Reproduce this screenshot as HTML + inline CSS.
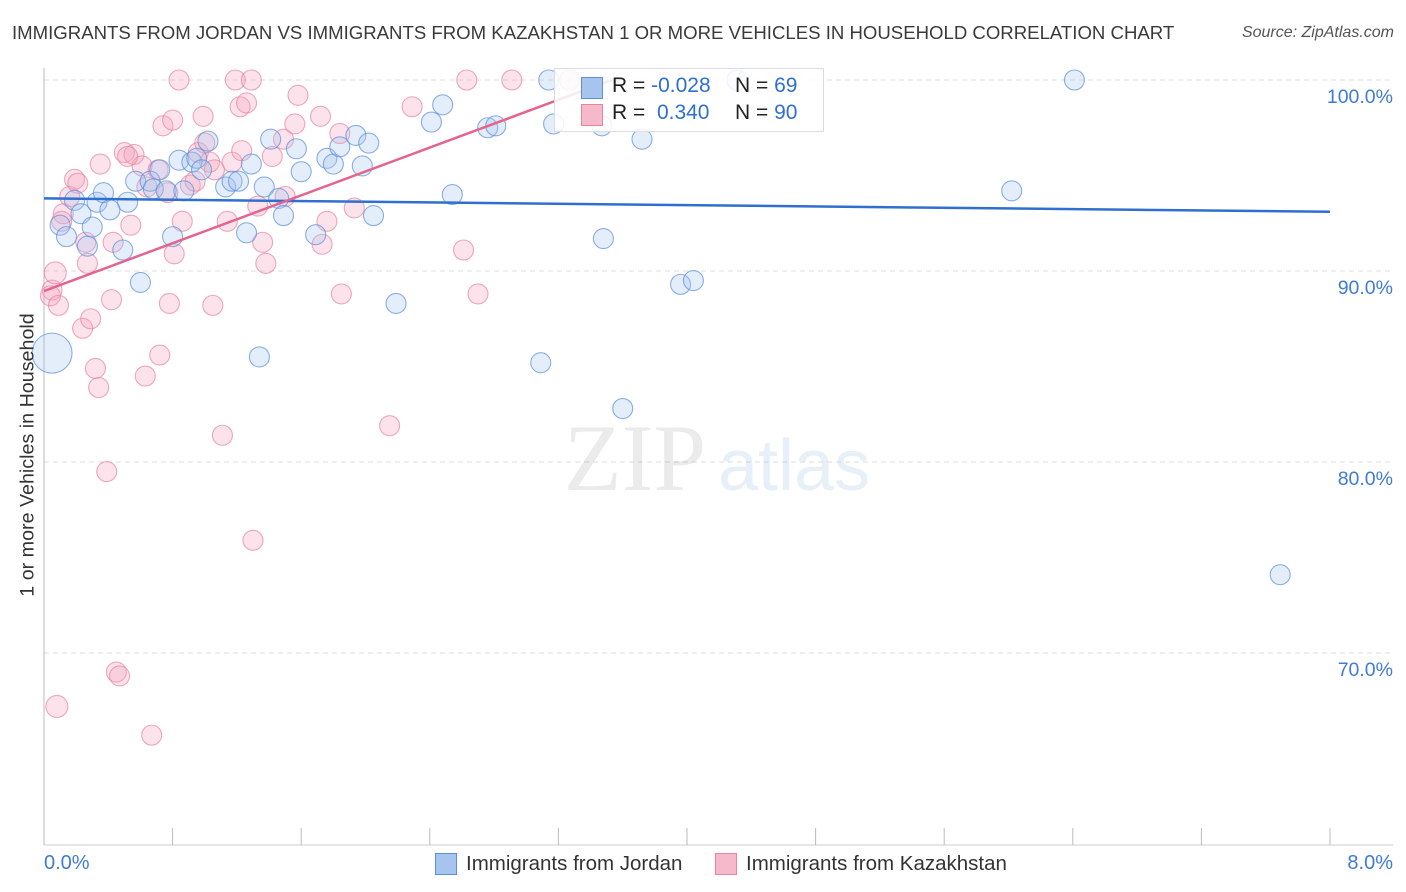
<!DOCTYPE html>
<html><head><meta charset="utf-8"><style>
body{margin:0;background:#fff;font-family:"Liberation Sans",sans-serif;}
#wrap{position:relative;width:1406px;height:892px;overflow:hidden;}
.t{position:absolute;white-space:nowrap;}
</style></head><body>
<div id="wrap">
<div class="t" style="left:12px;top:22px;font-size:18.6px;color:#3a3a3a;">IMMIGRANTS FROM JORDAN VS IMMIGRANTS FROM KAZAKHSTAN 1 OR MORE VEHICLES IN HOUSEHOLD CORRELATION CHART</div>
<div class="t" style="right:12px;top:24px;font-size:16px;color:#555;font-style:italic;">Source: ZipAtlas.com</div>
<svg id="plot" width="1406" height="892" style="position:absolute;left:0;top:0"></svg>
</div>
<script>
const xTicksPct=[0,1,2,3,4,5,6,7,8];
const yTicks=[100,90,80,70];
const blueX=[0.05,0.10,0.14,0.19,0.23,0.27,0.30,0.33,0.37,0.41,0.49,0.52,0.57,0.60,0.66,0.68,0.72,0.76,0.80,0.87,0.84,0.92,0.95,0.98,1.02,1.13,1.17,1.21,1.26,1.29,1.34,1.37,1.41,1.46,1.49,1.57,1.60,1.69,1.76,1.80,1.84,1.94,1.98,2.02,2.05,2.19,2.41,2.48,2.54,2.76,2.81,3.09,3.14,3.17,3.47,3.48,3.60,3.72,3.96,4.04,4.31,6.02,6.41,7.69];
const blueY=[85.7,92.4,91.8,93.7,93.0,91.3,92.3,93.6,94.1,93.2,91.1,93.6,94.7,89.4,94.7,94.3,95.3,94.2,91.8,94.2,95.8,95.7,95.9,95.3,96.8,94.4,94.7,94.7,92.0,95.6,85.5,94.4,96.9,93.8,92.9,96.4,95.2,91.9,95.9,95.6,96.5,97.1,95.5,96.7,92.9,88.3,97.8,98.7,94.0,97.5,97.6,85.2,100,97.7,97.6,91.7,82.8,96.9,89.3,89.5,100,94.2,100,74.1];
const pinkX=[0.05,0.04,0.07,0.08,0.09,0.12,0.11,0.16,0.19,0.21,0.24,0.26,0.27,0.29,0.32,0.34,0.35,0.39,0.42,0.43,0.45,0.47,0.50,0.54,0.56,0.61,0.63,0.64,0.67,0.71,0.72,0.74,0.77,0.78,0.80,0.81,0.84,0.86,0.91,0.96,0.99,1.00,1.03,1.05,1.11,1.14,1.17,1.19,1.22,1.23,1.26,1.29,1.30,1.33,1.36,1.38,1.42,1.49,1.50,1.56,1.58,1.72,1.73,1.76,1.85,1.84,1.93,2.15,2.29,2.61,2.63,2.70,2.91,3.27,0.52,1.06,0.94];
const pinkY=[89.0,88.7,89.9,67.2,88.2,93.0,92.6,93.9,94.8,94.6,87.0,91.5,90.4,87.5,84.9,83.9,95.6,79.5,88.5,91.5,69.0,68.8,96.2,92.4,96.1,95.5,84.5,94.4,65.7,95.3,85.6,97.6,94.1,88.3,97.9,90.9,100,92.6,94.5,96.2,98.1,96.7,95.7,88.2,81.4,92.6,95.7,100,98.6,96.3,98.8,100,75.9,93.4,91.5,90.4,96.0,96.9,93.9,97.7,99.2,98.1,91.4,92.6,88.8,97.2,93.3,81.9,98.6,91.1,100,88.8,100,100,96.0,95.3,94.7];
const blueTrend=[93.8,93.1];
const pinkTrend=[88.95,3.13];
const NS="http://www.w3.org/2000/svg";
const svg=document.getElementById('plot');
const X=v=>44+v*160.75;
const Y=v=>80+(100-v)*19.1;
function mk(tag,at){const e=document.createElementNS(NS,tag);for(const k in at)e.setAttribute(k,at[k]);svg.appendChild(e);return e;}
yTicks.forEach(t=>{
 const g=mk('line',{x1:44,x2:1393,y1:Y(t),y2:Y(t),stroke:'#ddd','stroke-dasharray':'5,4'});
 
 
 const tx=mk('text',{x:1393,y:Y(t)+23,'text-anchor':'end','font-size':19.5,fill:'#3f7bd8'});
 tx.textContent=t.toFixed(1)+'%';
 
 
});
const ax=mk('line',{x1:44,x2:44,y1:68,y2:845,stroke:'#bbb'});


const bx=mk('line',{x1:44,x2:1393,y1:845,y2:845,stroke:'#ccc'});


for(let i=0;i<=10;i++){const x=44+i*128.6;const tk=mk('line',{x1:x,x2:x,y1:828,y2:845,stroke:'#bbb'});
 
 }
const wm=mk('text',{x:635,y:490,'text-anchor':'middle','font-size':95,fill:'#000','fill-opacity':0.08,'font-family':'Liberation Serif'});
wm.textContent='ZIP';


const wm2=mk('text',{x:718,y:490,'font-size':72,fill:'#7aa6e0','fill-opacity':0.18});
wm2.textContent='atlas';


function dots(xs,ys,fill,stroke,name){xs.forEach((v,i)=>{
 let r=10;if(name==='blue-point'&&i===0)r=20;if(name==='pink-point'&&(i===2||i===3))r=11;
 const c=mk('circle',{cx:X(v),cy:Y(ys[i]),r:r,fill:fill,'fill-opacity':0.3,stroke:stroke,'stroke-opacity':0.7,'stroke-width':1.1});
 
 });}
dots(pinkX,pinkY,'#f4a3bd','#e8849f','pink-point');
dots(blueX,blueY,'#a7c4ef','#5b8fdc','blue-point');
const bl=mk('line',{x1:X(0),y1:Y(blueTrend[0]),x2:X(8),y2:Y(blueTrend[1]),stroke:'#2f6fd0','stroke-width':2.5});


const xe=(100-pinkTrend[0])/pinkTrend[1];
const pl=mk('line',{x1:X(0),y1:Y(pinkTrend[0]),x2:X(xe),y2:Y(100),stroke:'#e4648e','stroke-width':2.5});


</script>
<div class="t" style="left:28px;top:455px;font-size:19.7px;color:#333;transform:translate(-50%,-50%) rotate(-90deg);">1 or more Vehicles in Household</div>
<div class="t" style="left:44px;top:852px;font-size:20px;color:#3f7bd8;">0.0%</div>
<div class="t" style="right:13px;top:852px;font-size:20px;color:#3f7bd8;">8.0%</div>
<div style="position:absolute;left:554px;top:68px;width:268px;height:62px;border:1px solid #ddd;background:rgba(255,255,255,0.85);font-size:21px;">
 <div style="position:absolute;left:26px;top:8px;width:20px;height:20px;background:#a7c4ef;border:1px solid #5b8fdc"></div>
 <div style="position:absolute;left:26px;top:35px;width:20px;height:20px;background:#f6b8cb;border:1px solid #e8849f"></div>
 <div class="t" style="left:57px;top:5px;color:#222">R = <span style="color:#2f6fd0">-0.028</span></div>
 <div class="t" style="left:180px;top:5px;color:#222">N = <span style="color:#2f6fd0">69</span></div>
 <div class="t" style="left:57px;top:32px;color:#222">R = &nbsp;<span style="color:#2f6fd0">0.340</span></div>
 <div class="t" style="left:180px;top:32px;color:#222">N = <span style="color:#2f6fd0">90</span></div>
</div>
<div style="position:absolute;left:435px;top:853px;">
 <div style="position:absolute;left:0;top:0;width:20px;height:20px;background:#a7c4ef;border:1px solid #5b8fdc"></div>
 <div class="t" style="left:31px;top:-1px;font-size:20.5px;color:#333">Immigrants from Jordan</div></div>
<div style="position:absolute;left:715px;top:853px;">
 <div style="position:absolute;left:0;top:0;width:20px;height:20px;background:#f6b8cb;border:1px solid #e8849f"></div>
 <div class="t" style="left:31px;top:-1px;font-size:20.5px;color:#333">Immigrants from Kazakhstan</div></div>
</body></html>
